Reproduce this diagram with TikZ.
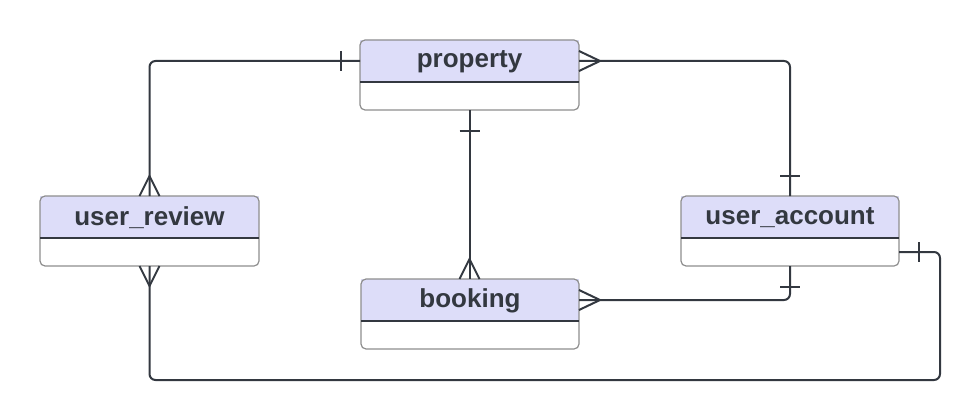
\documentclass[tikz,border=0pt]{standalone}
\usepackage{fontspec}
\setmainfont{Liberation Sans}
\usetikzlibrary{calc}
\definecolor{hdr}{HTML}{DDDDF9}
\definecolor{lnc}{HTML}{333840}
\definecolor{bdr}{HTML}{8E8E8E}
\tikzset{
  hbox/.style={draw=none, fill=hdr, minimum height=42pt, inner sep=0pt, outer sep=0pt},
  bbox/.style={draw=none, fill=white, minimum height=28pt, inner sep=0pt, outer sep=0pt},
  frame/.style={draw=bdr, line width=1.2pt, rounded corners=5pt},
  divl/.style={draw=lnc, line width=1.2pt},
  ttl/.style={font=\fontsize{26}{26}\selectfont\bfseries, text=lnc, inner sep=0pt},
  ln/.style={draw=lnc, line width=2pt},
  rel/.style={ln, rounded corners=6pt}
}
\newcommand{\entity}[5]{%
  % #1 name, #2 left, #3 right, #4 top, #5 text
  \node[hbox, minimum width=#3pt-#2pt, anchor=north west] (#1-h) at (#2,#4) {};
  \node[bbox, minimum width=#3pt-#2pt, anchor=north west] (#1-b) at (#1-h.south west) {};
  \fill[hdr, rounded corners=5pt] (#1-h.north west) rectangle ($(#1-h.south east)+(0,-8)$);
  \fill[white] (#1-b.north west) rectangle (#1-b.south east);
  \fill[white, rounded corners=5pt] ($(#1-b.north west)+(0,6)$) rectangle (#1-b.south east);
  \fill[hdr] (#1-h.south west) rectangle ($(#1-h.south east)+(0,-6)$);
  \draw[frame] (#1-h.north west) rectangle (#1-b.south east);
  \draw[divl] (#1-h.south west) -- (#1-h.south east);
  \node[ttl] (#1-t) at ($(#1-h.center)+(0,0.5)$) {#5};
}
\begin{document}
\begin{tikzpicture}[x=1pt, y=-1pt]
\useasboundingbox (0,0) rectangle (980,420);

\entity{property}{360}{579}{40}{property}
\entity{review}{40}{259}{196}{user\_review}
\entity{account}{681}{899}{196}{user\_account}
\entity{booking}{361}{579}{279}{booking}

\coordinate (loopR) at (940,380);

% connectors
\draw[rel] (property-h.west) -| (review-h.north);
\draw[rel] (property-h.east) -| (account-h.north);
\draw[rel] (property-b.south) -- (booking-h.north -| property-b.south);
\draw[rel] (booking-h.east) -| (account-b.south);
\draw[rel] (account-b.east) -| (loopR) -| (review-b.south);

% one bars
\draw[ln] ($(property-h.west)+(-19,-10)$) -- ++(0,20);
\draw[ln] ($(account-h.north)+(-10,-20)$) -- ++(20,0);
\draw[ln] ($(property-b.south)+(-10,21)$) -- ++(20,0);
\draw[ln] ($(account-b.south)+(-10,21)$) -- ++(20,0);
\draw[ln] ($(account-b.east)+(20,-10)$) -- ++(0,20);

% crow's feet
\draw[ln] ($(property-h.east)+(0,-10)$) -- ($(property-h.east)+(21,0)$) -- ($(property-h.east)+(0,10)$);
\draw[ln] ($(booking-h.east)+(0,-10)$) -- ($(booking-h.east)+(21,0)$) -- ($(booking-h.east)+(0,10)$);
\draw[ln] ($(review-h.north)+(-10,0)$) -- ($(review-h.north)+(0,-20)$) -- ($(review-h.north)+(10,0)$);
\draw[ln] ($(review-b.south)+(-10,0)$) -- ($(review-b.south)+(0,20)$) -- ($(review-b.south)+(10,0)$);
\draw[ln] ($(booking-h.north -| property-b.south)+(-10,0)$) -- ($(booking-h.north -| property-b.south)+(0,-20)$) -- ($(booking-h.north -| property-b.south)+(10,0)$);
\end{tikzpicture}
\end{document}
